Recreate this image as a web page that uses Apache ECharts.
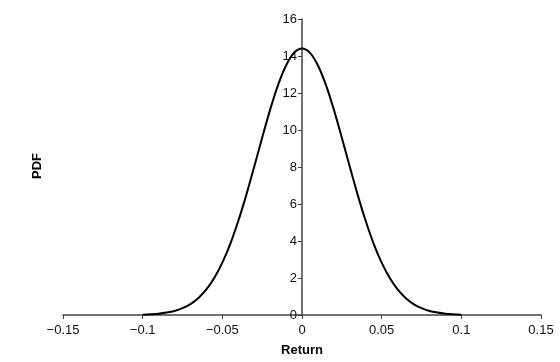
<!DOCTYPE html>
<html>
<head>
<meta charset="utf-8">
<script src="https://cdn.jsdelivr.net/npm/echarts@6/dist/echarts.min.js"></script>
<style>html,body{margin:0;padding:0;background:#fff}#c{width:560px;height:362px}</style>
</head>
<body>
<div id="c"></div>
<script>
var returns = [-0.1,-0.095,-0.09,-0.085,-0.08,-0.075,-0.07,-0.065,-0.06,-0.055,-0.05,-0.045,-0.04,-0.035,-0.03,-0.025,-0.02,-0.015,-0.01,-0.005,0,0.005,0.01,0.015,0.02,0.025,0.03,0.035,0.04,0.045,0.05,0.055,0.06,0.065,0.07,0.075,0.08,0.085,0.09,0.095,0.1];
var pdf = [0.02,0.04,0.07,0.13,0.22,0.37,0.59,0.92,1.38,2.01,2.83,3.85,5.08,6.48,8.01,9.58,11.10,12.44,13.49,14.17,14.40,14.17,13.49,12.44,11.10,9.58,8.01,6.48,5.08,3.85,2.83,2.01,1.38,0.92,0.59,0.37,0.22,0.13,0.07,0.04,0.02];
var xTicks = {min:-0.15, max:0.15, interval:0.05};
var yTicks = {min:0, max:16, interval:2};

var font = 'Liberation Sans, Arial, sans-serif';
var axisColor = '#444';
var gridLeft = 63, gridRight = 19;
var plotW = 560 - gridLeft - gridRight;
var zeroOffset = -plotW * (0 - xTicks.min) / (xTicks.max - xTicks.min);
var chart = echarts.init(document.getElementById('c'), null, {renderer:'canvas'});
chart.setOption({
  animation:false,
  grid:{left:gridLeft, right:gridRight, top:19, bottom:45, containLabel:false},
  xAxis:{
    type:'value', min:xTicks.min, max:xTicks.max, interval:xTicks.interval,
    name:'Return', nameLocation:'middle', nameGap:29,
    nameTextStyle:{fontFamily:font, fontSize:13, fontWeight:'bold', color:'#000'},
    axisLine:{onZero:false, lineStyle:{color:axisColor, width:1.5}},
    axisTick:{show:true, inside:false, length:4, lineStyle:{color:axisColor, width:1}},
    axisLabel:{fontFamily:font, fontSize:13, color:'#111', margin:9,
      formatter:function(v){var s=String(+v.toFixed(2)); return s.replace('-','\u2212');}},
    splitLine:{show:false}
  },
  yAxis:{
    type:'value', min:yTicks.min, max:yTicks.max, interval:yTicks.interval,
    offset:zeroOffset,
    axisLine:{onZero:false, lineStyle:{color:axisColor, width:1.5}},
    axisTick:{show:true, inside:false, length:4, lineStyle:{color:axisColor, width:1}},
    axisLabel:{fontFamily:font, fontSize:13, color:'#111', margin:5},
    splitLine:{show:false}
  },
  graphic:[{type:'text', x:37, y:166, rotation:Math.PI/2,
    style:{text:'PDF', font:'bold 13px '+font, fill:'#000', textAlign:'center', textVerticalAlign:'middle'}}],
  series:[{
    type:'line', data:returns.map(function(r,i){return [r,pdf[i]];}),
    smooth:0.3, symbol:'none', lineStyle:{color:'#000', width:2}, z:1
  }]
});
</script>
</body>
</html>
